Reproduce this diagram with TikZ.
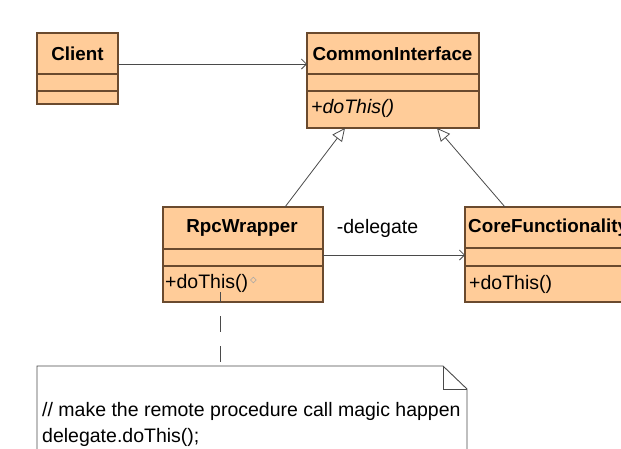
\documentclass[tikz,border=0pt]{standalone}
\usepackage{fontspec}
\setmainfont{Liberation Sans}
\usetikzlibrary{arrows.meta,shapes.geometric}
\definecolor{classfill}{HTML}{FFCC99}
\definecolor{classline}{HTML}{6A4A2E}
\definecolor{conline}{HTML}{4A4A4A}
\begin{document}
\begin{tikzpicture}[x=1pt,y=-1pt,
  classbox/.style={draw=classline,fill=classfill,line width=1.1pt,rectangle,inner sep=0pt,outer sep=0pt,anchor=north west},
  divider/.style={draw=classline,line width=1.1pt},
  titletext/.style={font=\fontsize{18.8}{22}\selectfont\bfseries,inner sep=0pt},
  optext/.style={font=\fontsize{19.5}{22}\selectfont,inner sep=0pt,anchor=west},
  assoc/.style={draw=conline,line width=0.8pt,-{Straight Barb[length=5pt,width=10pt]}},
  gener/.style={draw=conline,line width=0.8pt,-{Triangle[open,length=13pt,width=12pt]}},
  notedash/.style={draw=conline,line width=0.8pt,dash pattern=on 16pt off 14pt,dash phase=6pt},
  noteline/.style={draw=conline,line width=0.9pt}
]
\useasboundingbox (0,0) rectangle (621,448);
\clip (0,0) rectangle (621,448);

% Client
\node[classbox,minimum width=81pt,minimum height=71pt] (client) at (37,33) {};
\draw[divider] ([yshift=-41pt]client.north west) -- ([yshift=-41pt]client.north east);
\draw[divider] ([yshift=-58pt]client.north west) -- ([yshift=-58pt]client.north east);
\node[titletext] (clientname) at (77.5,53.5) {Client};

% CommonInterface
\node[classbox,minimum width=172pt,minimum height=95pt] (ci) at (307,33) {};
\draw[divider] ([yshift=-41pt]ci.north west) -- ([yshift=-41pt]ci.north east);
\draw[divider] ([yshift=-58pt]ci.north west) -- ([yshift=-58pt]ci.north east);
\node[titletext] (ciname) at (392.5,53.5) {CommonInterface};
\node[optext,font=\fontsize{19.5}{22}\selectfont\itshape] (ciop) at (311,108) {+doThis()};

% RpcWrapper
\node[classbox,minimum width=160pt,minimum height=95pt] (rpc) at (163,207) {};
\draw[divider] ([yshift=-42pt]rpc.north west) -- ([yshift=-42pt]rpc.north east);
\draw[divider] ([yshift=-59pt]rpc.north west) -- ([yshift=-59pt]rpc.north east);
\node[titletext] (rpcname) at (242,228) {RpcWrapper};
\node[optext] (rpcop) at (165,283) {+doThis()};
\node[diamond,draw=gray!70,fill=classfill,line width=0.5pt,inner sep=0pt,minimum width=6pt,minimum height=6pt] (rpcmark) at ([xshift=5pt,yshift=3pt]rpcop.east) {};

% CoreFunctionality
\node[classbox,minimum width=180pt,minimum height=95pt] (core) at (465,207) {};
\draw[divider] ([yshift=-41pt]core.north west) -- ([yshift=-41pt]core.north east);
\draw[divider] ([yshift=-59pt]core.north west) -- ([yshift=-59pt]core.north east);
\node[titletext,anchor=west] (corename) at (468,228) {CoreFunctionality};
\node[optext] (coreop) at (469,284) {+doThis()};

% Note
\node[rectangle,inner sep=0pt,outer sep=0pt,anchor=north west,minimum width=430pt,minimum height=100pt] (note) at (37,366) {};
\draw[noteline] (note.south west) -- (note.north west) -- ([xshift=-24pt]note.north east) -- ([yshift=-23pt]note.north east) -- (note.south east);
\draw[noteline] ([xshift=-24pt]note.north east) |- ([yshift=-23pt]note.north east);
\node[font=\fontsize{19.5}{26}\selectfont,inner sep=0pt,anchor=base west] (note1) at (42,416) {// make the remote procedure call magic happen};
\node[font=\fontsize{19.5}{26}\selectfont,inner sep=0pt,anchor=base west] (note2) at (42,442) {delegate.doThis();};

% Connectors
\draw[assoc] (client.east |- 0,64) -- (ci.west |- 0,64);
\draw[gener] (rpc.north -| 285,0) -- (ci.south -| 345,0);
\draw[gener] (core.north -| 505,0) -- (ci.south -| 437,0);
\draw[assoc] (rpc.east |- 0,255) -- (core.west |- 0,255);
\node[font=\fontsize{19.5}{22}\selectfont,inner sep=0pt] (delegatelabel) at (377.5,228) {-delegate};
\coordinate (noteanchor) at (220,292);
\draw[notedash] (noteanchor) -- (note.north -| noteanchor);
\end{tikzpicture}
\end{document}
